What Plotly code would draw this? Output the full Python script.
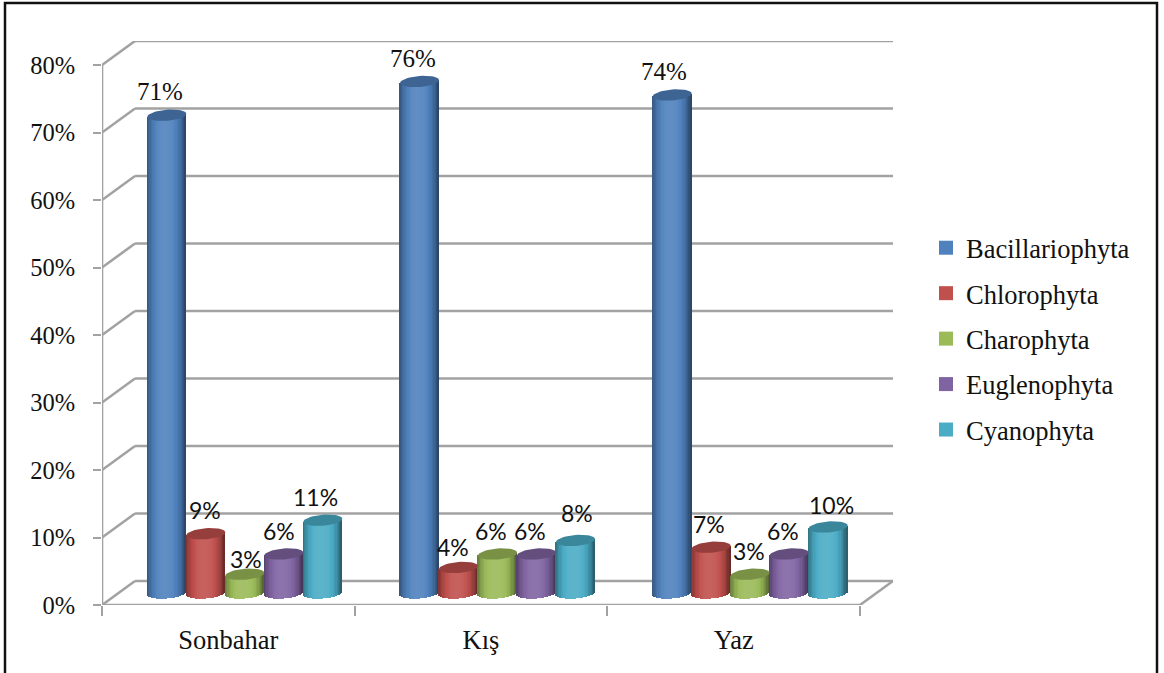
import plotly.graph_objects as go
import math

categories = ["Sonbahar", "Kış", "Yaz"]
series_names = ["Bacillariophyta", "Chlorophyta", "Charophyta", "Euglenophyta", "Cyanophyta"]
bacillariophyta = [71, 76, 74]
chlorophyta = [9, 4, 7]
charophyta = [3, 6, 3]
euglenophyta = [6, 6, 6]
cyanophyta = [11, 8, 10]
series_values = [bacillariophyta, chlorophyta, charophyta, euglenophyta, cyanophyta]
y_ticks = [0, 10, 20, 30, 40, 50, 60, 70, 80]
y_tick_labels = ["0%", "10%", "20%", "30%", "40%", "50%", "60%", "70%", "80%"]

colors = ["#4F81BD", "#C0504D", "#9BBB59", "#8064A2", "#4BACC6"]
label_shift = [[(-7, -1), (-1, -1), (1, 7), (-5, -1), (-7, -1)],
               [(-7, -1), (-6, 2), (-7, -1), (-7, -1), (1, -5)],
               [(-8, -1), (-2, -1), (-1, -1), (-6, -1), (3, 0)]]

W, H = 1164, 673
L, R, T, B = 102, 893, 41, 605
CAT_PX = 252.67
Y_PX = 6.75
DX, DY = 33 / CAT_PX, 24 / Y_PX          # depth of the floor
MX, MY = 16.5 / CAT_PX, 12 / Y_PX        # depth of the cylinder axis at the base
MY_TOP = 10.5 / Y_PX                     # depth of the cylinder axis at the top
BW = 39 / CAT_PX
E = 5.5 / Y_PX
TILT = 1.5 / Y_PX
N = 30
GRID = "#A2A2A2"


def shade(hex_c, f):
    rgb = [int(hex_c[i:i + 2], 16) for i in (1, 3, 5)]
    if f <= 1:
        out = [c * f for c in rgb]
    else:
        out = [c + (255 - c) * (f - 1) for c in rgb]
    return "rgb(%d,%d,%d)" % tuple(out)


fig = go.Figure()
shapes = []


def seg(x0, y0, x1, y1, w=2.6):
    shapes.append(dict(type="line", xref="x", yref="y", x0=x0, y0=y0, x1=x1, y1=y1,
                       layer="below", line=dict(color=GRID, width=w)))


nc = len(categories)
for v in y_ticks:
    seg(0, v, DX, v + DY)
    seg(DX, v + DY, nc + DX, v + DY)
seg(0, 0, 0, y_ticks[-1])
seg(0, 0, nc, 0)
seg(nc, 0, nc + DX, DY)

# cylinders
for s, (name, vals, col) in enumerate(zip(series_names, series_values, colors)):
    xs, bases, tops, cs = [], [], [], []
    for c, v in enumerate(vals):
        cx = c + 0.5 + MX + (s - 2) * BW
        for i in range(N):
            u = -1 + (2 * i + 1) / N
            rim = math.sqrt(max(0, 1 - u * u))
            xs.append(cx + u * BW / 2)
            b = MY - E * rim + TILT * u
            t = v + MY_TOP + TILT * u
            bases.append(b)
            tops.append(t - b)
            f = 0.58 + 0.52 * (1 - abs(u + 0.05) ** 2.6)
            cs.append(shade(col, f))
    fig.add_trace(go.Bar(x=xs, y=tops, base=bases, width=BW / N * 1.15,
                         marker=dict(color=cs, line=dict(width=0)),
                         showlegend=False, hoverinfo="skip", legendgroup=name))
    for c, v in enumerate(vals):
        cx = c + 0.5 + MX + (s - 2) * BW
        ex, ey = [], []
        for k in range(49):
            a = 2 * math.pi * k / 48
            u = math.cos(a)
            ex.append(cx + u * BW / 2)
            ey.append(v + MY_TOP + E * math.sin(a) + TILT * u)
        fig.add_trace(go.Scatter(x=ex, y=ey, mode="lines", fill="toself",
                                 fillcolor=shade(col, 0.78), line=dict(width=0),
                                 showlegend=False, hoverinfo="skip", legendgroup=name))
    fig.add_trace(go.Scatter(x=[None], y=[None], mode="markers", name=name, legendgroup=name,
                             marker=dict(symbol="square", size=14, color=col)))

anns = []
for s, vals in enumerate(series_values):
    for c, v in enumerate(vals):
        cx = c + 0.5 + MX + (s - 2) * BW
        dxp, dyp = label_shift[c][s]
        is_big = v > 50
        anns.append(dict(x=cx, y=v + MY, xref="x", yref="y", text=f"{v}%", showarrow=False,
                         xshift=dxp, yshift=21 - dyp,
                         font=dict(family="Liberation Serif" if is_big else "Lato",
                                   size=25 if is_big else 23, color="#111")))

# chart frame, running off the bottom of the page
shapes.append(dict(type="path", xref="paper", yref="paper",
                   path="M %f %f L %f %f L %f %f L %f %f" % (
                       (5 - L) / (R - L), -80 / (B - T),
                       (5 - L) / (R - L), (B - 3) / (B - T),
                       (1157 - L) / (R - L), (B - 3) / (B - T),
                       (1157 - L) / (R - L), -80 / (B - T)),
                   line=dict(color="#111", width=2.5)))

fig.update_layout(
    width=W, height=H, autosize=False,
    margin=dict(l=L, r=W - R, t=T, b=H - B, pad=0),
    paper_bgcolor="white", plot_bgcolor="white",
    barmode="overlay", bargap=0, shapes=shapes, annotations=anns,
    font=dict(family="Liberation Serif", color="#111"),
    xaxis=dict(range=[0, (R - L) / CAT_PX], tickvals=[0.5, 1.5, 2.5], ticktext=categories,
               showgrid=False, zeroline=False, showline=False, ticks="", ticklen=0,
               tickfont=dict(size=26.5, family="Liberation Serif"),
               minor=dict(tickvals=[0, 1, 2, 3], ticks="outside", ticklen=10, tickwidth=2, tickcolor=GRID, showgrid=False),
               ticklabelstandoff=16),
    yaxis=dict(range=[0, (B - T) / Y_PX], tickvals=y_ticks, ticktext=y_tick_labels,
               showgrid=False, zeroline=False, showline=False, ticks="outside", ticklen=8,
               tickwidth=2, tickcolor=GRID, tickfont=dict(size=24.5, family="Liberation Serif"),
               ticklabelstandoff=13),
    legend=dict(x=(932 - L) / (R - L), y=(B - 224) / (B - T), xanchor="left", yanchor="top",
                font=dict(size=26.5, family="Liberation Serif"), tracegroupgap=8, indentation=-6,
                bgcolor="rgba(0,0,0,0)", itemclick=False, itemdoubleclick=False),
)
fig.write_html("out.html", post_script="document.body.style.margin='0';document.body.style.overflow='hidden';",
               config=dict(displayModeBar=False))
